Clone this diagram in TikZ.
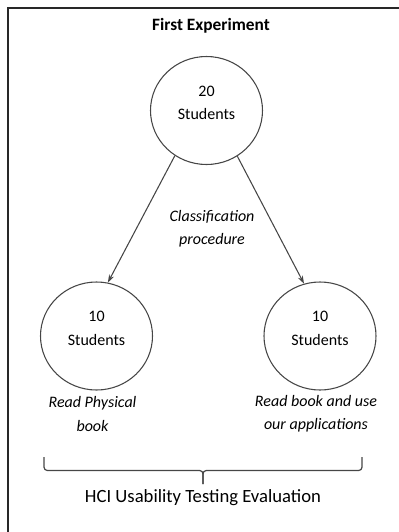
\documentclass[tikz,border=0pt]{standalone}
\usepackage{fontspec}
\setmainfont{Carlito}
\definecolor{FrameGrey}{RGB}{40,40,40}
\definecolor{LineGrey}{RGB}{70,70,70}
\usetikzlibrary{shapes.geometric,arrows.meta,positioning}

\begin{document}
\begin{tikzpicture}[x=0.75pt,y=-0.75pt,
    group/.style={draw=LineGrey,ellipse,line width=0.8pt,
                  minimum width=84pt,minimum height=81pt},
    count/.style={align=center,font=\fontsize{12}{17.5}\selectfont},
    note/.style={align=center,font=\fontsize{12}{17.5}\selectfont\itshape},
    split/.style={-{Stealth[length=6pt,width=4pt]},draw=LineGrey,line width=0.8pt}]
    \useasboundingbox (0,0) rectangle (399,532);
    \draw[FrameGrey,line width=1.2pt] (8,532) -- (8,8) -- (399,8);
    \node[font=\fontsize{13}{15}\selectfont\bfseries] (title) at (211,26) {First Experiment};
    \node[group] (all) at (206.5,110.5) {};
    \node[count] (allText) at (206.5,103) {20\\Students};
    \foreach \side/\x in {left/96.5,right/320}{
      \node[group] (\side) at (\x,336) {};
      \node[count] (\side Text) at (\x,328.5) {10\\Students};
    }
    \node[note] (procedure) at (212,229) {Classification\\procedure};
    \draw[split] (all.235) -- (left.78);
    \draw[split] (all.304) -- (right.107);
    \node[note] (leftNote) at (92.5,414) {Read Physical\\book};
    \node[note] (rightNote) at (316,414) {Read book and use\\our applications};
    % brace under both groups
    \coordinate (braceL) at (44,457);
    \coordinate (braceR) at (362,457);
    \coordinate (braceTip) at (203,484);
    \draw[LineGrey,line width=0.9pt,rounded corners=2.5pt]
      (braceL) -- (braceL |- 0,470.5) -- (braceTip |- 0,470.5) -- (braceTip);
    \draw[LineGrey,line width=0.9pt,rounded corners=2.5pt]
      (braceR) -- (braceR |- 0,470.5) -- (braceTip |- 0,470.5) -- (braceTip);
    \node[font=\fontsize{14}{16}\selectfont] (evaluation) at (203,498) {HCI Usability Testing Evaluation};
\end{tikzpicture}
\end{document}
